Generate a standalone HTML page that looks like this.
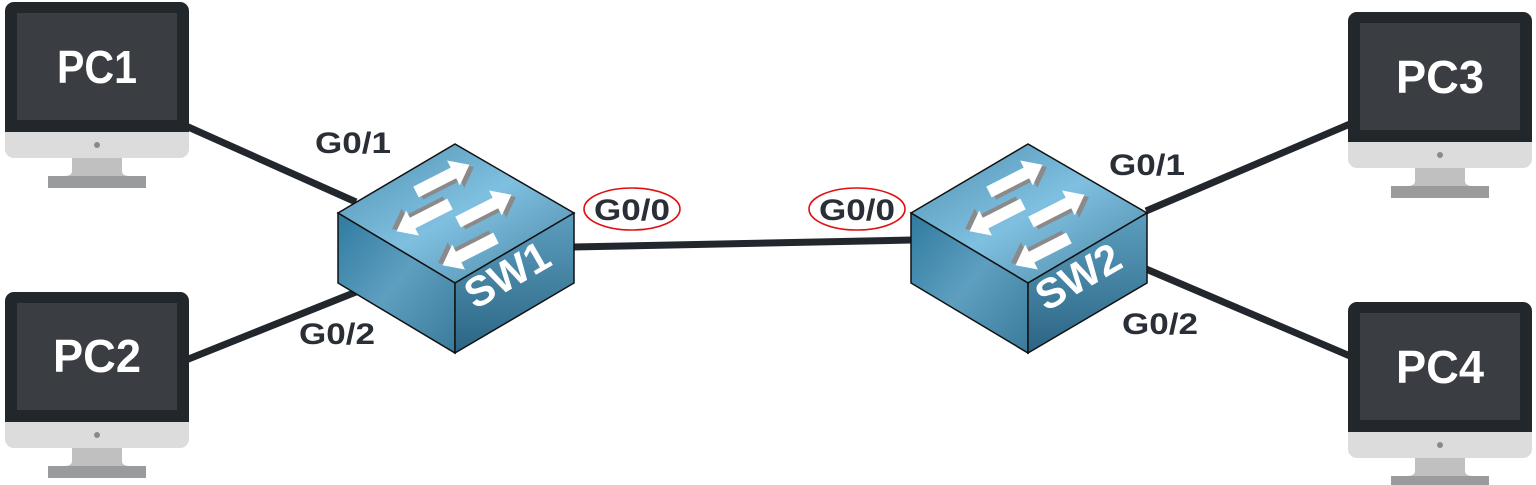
<!DOCTYPE html>
<html><head><meta charset="utf-8"><style>
html,body{margin:0;padding:0;background:#fff;}
svg{display:block;}
.l{font-family:"Liberation Sans",sans-serif;font-weight:bold;font-size:30px;fill:#2a2f37;}
.pc{font-family:"Liberation Sans",sans-serif;font-weight:bold;font-size:46px;fill:#fff;}
.sw{font-family:"Liberation Sans",sans-serif;font-weight:bold;font-size:42px;fill:#fff;}
</style></head><body>
<svg width="1536" height="485" viewBox="0 0 1536 485" xmlns="http://www.w3.org/2000/svg">
<defs>
<linearGradient id="top" x1="0" y1="0" x2="1" y2="1">
<stop offset="0" stop-color="#4f8fb0"/><stop offset="0.5" stop-color="#7fbfdf"/><stop offset="1" stop-color="#4a86a6"/></linearGradient>
<linearGradient id="left" x1="0" y1="0" x2="1" y2="1">
<stop offset="0" stop-color="#2f7aa0"/><stop offset="0.5" stop-color="#5e9fc0"/><stop offset="1" stop-color="#3a7a9a"/></linearGradient>
<linearGradient id="right" x1="0" y1="0" x2="0" y2="1">
<stop offset="0" stop-color="#5c9ebf"/><stop offset="1" stop-color="#2c6584"/></linearGradient>
<g id="pc">
<rect x="0" y="0" width="184" height="156" rx="9" fill="#dcdcdc"/>
<path d="M0 9 a9 9 0 0 1 9 -9 h166 a9 9 0 0 1 9 9 v121 h-184z" fill="#22272b"/>
<rect x="12" y="11" width="160" height="107" fill="#3a3e42"/>
<circle cx="92" cy="143" r="3" fill="#8a8a8a"/>
<path d="M67 156 h50 v13 q0 5 8 5 h-66 q8 0 8 -5z" fill="#c0c0c0"/>
<rect x="43" y="174" width="98" height="12" fill="#9a9b9d"/>
</g>
<g id="ar">
<polygon transform="translate(3,4)" points="0,-6 42,-6 42,-14 60,0 42,14 42,6 0,6" fill="#8a8a8a"/>
<polygon points="0,-6 42,-6 42,-14 60,0 42,14 42,6 0,6" fill="#fff"/>
</g>
<g id="sw">
<polygon points="0,69 117,0 236,69 117,139" fill="url(#top)" stroke="#111" stroke-width="1.5"/>
<polygon points="0,69 117,139 117,209 0,139" fill="url(#left)" stroke="#111" stroke-width="1.5"/>
<polygon points="117,139 236,69 236,139 117,209" fill="url(#right)" stroke="#111" stroke-width="1.5"/>
<use href="#ar" transform="translate(78,48) rotate(-27)"/>
<use href="#ar" transform="translate(120,78) rotate(-27)"/>
<use href="#ar" transform="translate(112,60) rotate(153)"/>
<use href="#ar" transform="translate(158,94) rotate(153)"/>
</g>
</defs>
<g stroke="#22272e" stroke-width="7" stroke-linecap="butt">
<line x1="186" y1="126" x2="356" y2="202"/>
<line x1="186" y1="360" x2="356" y2="292"/>
<line x1="573" y1="247" x2="912" y2="240"/>
<line x1="1146" y1="211" x2="1350" y2="124"/>
<line x1="1146" y1="269" x2="1350" y2="356"/>
</g>
<use href="#pc" x="5" y="2"/>
<use href="#pc" x="5" y="292"/>
<use href="#pc" x="1348" y="12"/>
<use href="#pc" x="1348" y="302"/>
<text class="pc" x="97" y="83" text-anchor="middle" textLength="80" lengthAdjust="spacingAndGlyphs">PC1</text>
<text class="pc" x="97" y="372" text-anchor="middle" textLength="88" lengthAdjust="spacingAndGlyphs">PC2</text>
<text class="pc" x="1440" y="93" text-anchor="middle" textLength="88" lengthAdjust="spacingAndGlyphs">PC3</text>
<text class="pc" x="1440" y="383" text-anchor="middle" textLength="88" lengthAdjust="spacingAndGlyphs">PC4</text>
<g transform="translate(338,144)">
<use href="#sw"/>
<text class="sw" transform="translate(137,166) rotate(-30)">SW1</text>
</g>
<g transform="translate(911,144)">
<use href="#sw"/>
<text class="sw" transform="translate(135,168) rotate(-30)">SW2</text>
</g>
<text class="l" x="353" y="153" text-anchor="middle" textLength="76" lengthAdjust="spacingAndGlyphs">G0/1</text>
<text class="l" x="337" y="344" text-anchor="middle" textLength="76" lengthAdjust="spacingAndGlyphs">G0/2</text>
<text class="l" x="632" y="220" text-anchor="middle" textLength="76" lengthAdjust="spacingAndGlyphs">G0/0</text>
<text class="l" x="857" y="220" text-anchor="middle" textLength="76" lengthAdjust="spacingAndGlyphs">G0/0</text>
<text class="l" x="1147" y="175" text-anchor="middle" textLength="76" lengthAdjust="spacingAndGlyphs">G0/1</text>
<text class="l" x="1160" y="334" text-anchor="middle" textLength="76" lengthAdjust="spacingAndGlyphs">G0/2</text>
<ellipse cx="632" cy="209" rx="48" ry="21" fill="none" stroke="#e01010" stroke-width="1.6"/>
<ellipse cx="857" cy="209" rx="48" ry="21" fill="none" stroke="#e01010" stroke-width="1.6"/>
</svg>
</body></html>
